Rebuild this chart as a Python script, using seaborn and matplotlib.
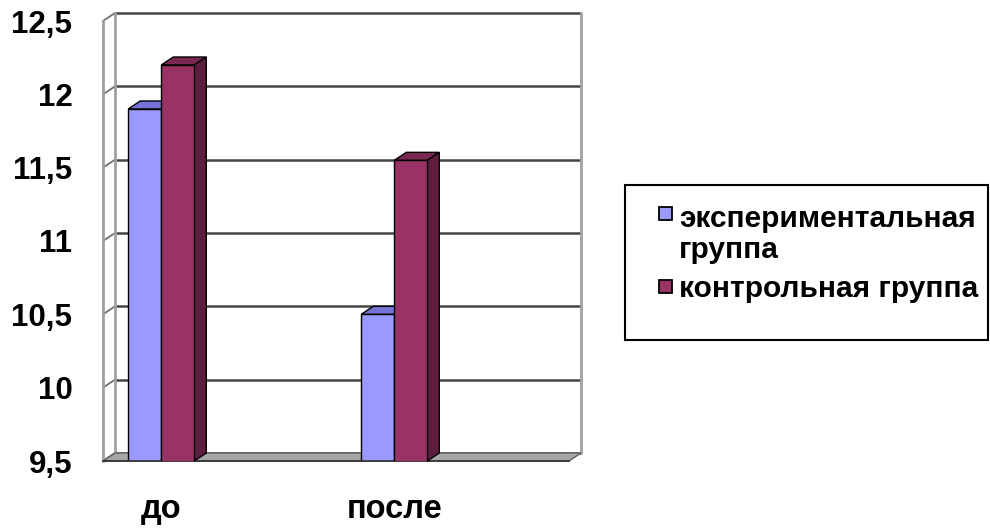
import numpy as np
import pandas as pd
import seaborn as sns
import matplotlib.pyplot as plt
from matplotlib.patches import Polygon, Rectangle
from matplotlib.ticker import FuncFormatter, FixedLocator

# Category slots on the x axis (two blank slots as spacers)
categories = ["до", "", "после", " "]
series_names = ["экспериментальная группа", "контрольная группа"]
legend_lines = [["экспериментальная", "группа"], ["контрольная группа"]]
exp_values = [11.9, np.nan, 10.5, np.nan]
ctrl_values = [12.2, np.nan, 11.55, np.nan]
y_ticks = [9.5, 10, 10.5, 11, 11.5, 12, 12.5]

front_colors = ["#9999FF", "#993366"]
top_colors = ["#7474D6", "#7A2852"]
side_colors = ["#5E5EB8", "#5E1F3F"]

df = pd.DataFrame({
    "slot": categories * 2,
    "group": [series_names[0]] * 4 + [series_names[1]] * 4,
    "value": exp_values + ctrl_values,
}).dropna()

sns.set_theme(style="white")
plt.rcParams["font.family"] = ["Liberation Sans", "DejaVu Sans"]
plt.rcParams["font.weight"] = "bold"

FS_Y = 22.5
FS_X = 23.5
FS_LEG = 21.5
W, H = 990, 529
fig = plt.figure(figsize=(W / 100, H / 100), dpi=100)
ax = fig.add_axes([103 / W, 68 / H, 466 / W, 440 / H])
ax.patch.set_alpha(0)

sns.barplot(data=df, x="slot", y="value", hue="group", order=categories,
            hue_order=series_names, palette=front_colors, width=0.567,
            edgecolor="black", linewidth=1.0, saturation=1, legend=False,
            errorbar=None, ax=ax)

ax.set_xlim(-0.5, 3.5)
ax.set_ylim(9.5, 12.5)
ax.set_xlabel("")
ax.set_ylabel("")

# depth offset of the 3D box, in pixels converted to data units
x0, x1 = ax.get_xlim()
ybot, ytop = ax.get_ylim()
ddx = 12 * (x1 - x0) / 466
ddy = 8 * (ytop - ybot) / 440

# floor
ax.add_patch(Polygon([(x0, ybot), (x1, ybot), (x1 + ddx, ybot + ddy), (x0 + ddx, ybot + ddy)],
                     closed=True, facecolor="#A6A6A6", edgecolor="#606060", lw=1.0,
                     clip_on=False, zorder=0.5))
# back wall gridlines and side-wall connectors
for yv in y_ticks:
    ax.plot([x0 + ddx, x1 + ddx], [yv + ddy, yv + ddy], color="#454545", lw=1.8,
            clip_on=False, zorder=0.4, solid_capstyle="butt")
    ax.plot([x0, x0 + ddx], [yv, yv + ddy], color="#707070", lw=1.3,
            clip_on=False, zorder=0.4)
# wall edges
ax.plot([x0 + ddx, x0 + ddx], [ybot + ddy, ytop + ddy], color="#A0A0A0", lw=2.0,
        clip_on=False, zorder=0.45)
ax.plot([x1 + ddx, x1 + ddx], [ybot + ddy, ytop + ddy], color="#A0A0A0", lw=2.0,
        clip_on=False, zorder=0.45)

# 3D tops and sides for each bar
for i, cont in enumerate(ax.containers):
    zbase = 1 + 2 * i
    for bar in cont:
        bx = bar.get_x()
        bw = bar.get_width()
        top = bar.get_y() + bar.get_height()
        if not np.isfinite(top):
            continue
        bar.set_zorder(zbase + 1)
        ax.add_patch(Polygon([(bx, top), (bx + bw, top), (bx + bw + ddx, top + ddy), (bx + ddx, top + ddy)],
                             closed=True, facecolor=top_colors[i], edgecolor="black", lw=1.0,
                             clip_on=False, zorder=zbase))
        ax.add_patch(Polygon([(bx + bw, ybot), (bx + bw + ddx, ybot + ddy), (bx + bw + ddx, top + ddy), (bx + bw, top)],
                             closed=True, facecolor=side_colors[i], edgecolor="black", lw=1.0,
                             clip_on=False, zorder=zbase))

# axes styling
for s in ["top", "right"]:
    ax.spines[s].set_visible(False)
ax.spines["left"].set_color("#A0A0A0")
ax.spines["left"].set_linewidth(2.0)
ax.spines["bottom"].set_color("#303030")
ax.spines["bottom"].set_linewidth(1.2)
ax.spines["left"].set_zorder(0.45)

ax.set_yticks(y_ticks)
ax.yaxis.set_major_formatter(FuncFormatter(lambda v, p: f"{v:g}".replace(".", ",")))
ax.tick_params(axis="y", which="major", direction="out", length=6, width=1.5,
               color="black", pad=16, labelsize=FS_Y, labelcolor="black")
for lab in ax.get_yticklabels():
    lab.set_fontweight("bold")

ax.set_xticks(range(len(categories)))
ax.set_xticklabels(categories, fontsize=FS_X, fontweight="bold", color="black")
ax.tick_params(axis="x", which="major", length=0, pad=24)
ax.xaxis.set_minor_locator(FixedLocator(np.arange(-0.5, 4.0, 1.0)))
ax.tick_params(axis="x", which="minor", direction="out", length=8, width=1.5, color="black")

# legend: frame, colour keys and labels in figure pixels
fig.add_artist(Rectangle((625 / W, 1 - 340 / H), 363 / W, 155 / H, transform=fig.transFigure,
                         facecolor="none", edgecolor="black", lw=1.5))
key_tops = [207, 280]
baselines = [[227, 258], [297]]
for color, top, lines, bls in zip(front_colors, key_tops, legend_lines, baselines):
    fig.add_artist(Rectangle((659 / W, 1 - (top + 13) / H), 13 / W, 13 / H,
                             transform=fig.transFigure, facecolor=color,
                             edgecolor="black", lw=1.3))
    for text, bl in zip(lines, bls):
        fig.text(679 / W, 1 - bl / H, text, fontsize=FS_LEG, fontweight="bold",
                 color="black", ha="left", va="baseline")

fig.savefig("out.png", dpi=100)
